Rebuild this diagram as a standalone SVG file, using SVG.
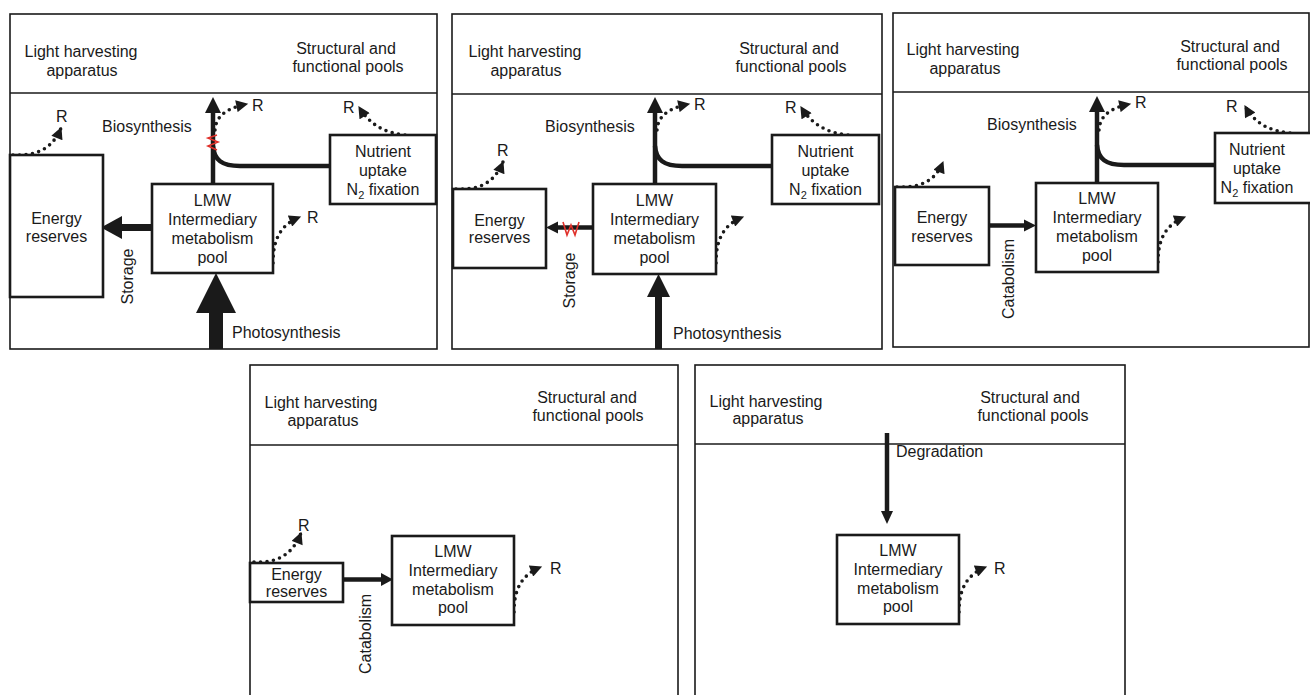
<svg xmlns="http://www.w3.org/2000/svg" width="1310" height="695" viewBox="0 0 1310 695">
<style>
text{font-family:"Liberation Sans",Arial,sans-serif;font-size:16px;fill:#1a1a1a}
.m{text-anchor:middle}
.sub{font-size:11px}
.panel{fill:none;stroke:#1a1a1a;stroke-width:1.6}
.div{stroke:#1a1a1a;stroke-width:1.6}
.box{fill:#fff;stroke:#1a1a1a;stroke-width:2.6}
.dot{fill:none;stroke:#1a1a1a;stroke-width:3.6;stroke-linecap:round;stroke-dasharray:0 6.5;marker-end:url(#rh)}
.ln{fill:none;stroke:#1a1a1a;stroke-width:4.5}
.hd{fill:#1a1a1a}
.zz{fill:none;stroke:#e0302a;stroke-width:1.6}
</style>
<defs>
<marker id="rh" viewBox="0 0 10 10" refX="9" refY="5" markerUnits="userSpaceOnUse" markerWidth="13" markerHeight="12" orient="auto">
<path d="M0,0 L10,5 L0,10 z" fill="#1a1a1a"/>
</marker>
</defs>

<!-- Panel frames -->
<g id="panel1">
<rect class="panel" x="10" y="14" width="427" height="335"/>
<line class="div" x1="10" y1="93" x2="437" y2="93"/>
<text class="m" x="81" y="57">Light harvesting</text>
<text class="m" x="82" y="76">apparatus</text>
<text class="m" x="346" y="54">Structural and</text>
<text class="m" x="348" y="72">functional pools</text>
<text x="102" y="132">Biosynthesis</text>
<text x="232" y="338">Photosynthesis</text>
<text class="m" transform="translate(132.5,276.5) rotate(-90)">Storage</text>
</g>
<g id="panel2">
<rect class="panel" x="452" y="14" width="430" height="335"/>
<line class="div" x1="452" y1="94" x2="882" y2="94"/>
<text class="m" x="525" y="57">Light harvesting</text>
<text class="m" x="526" y="76">apparatus</text>
<text class="m" x="789" y="54">Structural and</text>
<text class="m" x="791" y="72">functional pools</text>
<text x="545" y="132">Biosynthesis</text>
<text x="673" y="339">Photosynthesis</text>
<text class="m" transform="translate(575,280.5) rotate(-90)">Storage</text>
</g>
<g id="panel3">
<rect class="panel" x="893" y="13" width="416" height="334"/>
<line class="div" x1="893" y1="92" x2="1309" y2="92"/>
<text class="m" x="963" y="55">Light harvesting</text>
<text class="m" x="965" y="74">apparatus</text>
<text class="m" x="1230" y="52">Structural and</text>
<text class="m" x="1232" y="70">functional pools</text>
<text x="987" y="130">Biosynthesis</text>
<text class="m" transform="translate(1014,279) rotate(-90)">Catabolism</text>
</g>
<g id="panel4">
<rect class="panel" x="250" y="365" width="428" height="335"/>
<line class="div" x1="250" y1="445" x2="678" y2="445"/>
<text class="m" x="321" y="408">Light harvesting</text>
<text class="m" x="323" y="426">apparatus</text>
<text class="m" x="587" y="403">Structural and</text>
<text class="m" x="588" y="421">functional pools</text>
<text class="m" transform="translate(371,634) rotate(-90)">Catabolism</text>
</g>
<g id="panel5">
<rect class="panel" x="695" y="365" width="430" height="335"/>
<line class="div" x1="695" y1="444" x2="1125" y2="444"/>
<text class="m" x="766" y="407">Light harvesting</text>
<text class="m" x="768" y="424">apparatus</text>
<text class="m" x="1030" y="403">Structural and</text>
<text class="m" x="1033" y="421">functional pools</text>
<text x="896" y="457">Degradation</text>
</g>

<!-- Connectors -->
<g id="connectors">
<!-- panel 1 -->
<line class="ln" x1="213" y1="184" x2="213" y2="110"/>
<polygon class="hd" points="213,97 205,113 221,113"/>
<path class="ln" d="M330 166 L240 166 C222 166 214 160 213 146"/>
<polyline class="zz" points="217,135 208,138 218,142 208,146 217,150"/>
<rect class="hd" x="120" y="224" width="32" height="7"/>
<polygon class="hd" points="101,227.5 122,216 122,239"/>
<rect class="hd" x="209" y="311" width="14" height="38"/>
<polygon class="hd" points="216,273 196,313 236,313"/>
<path class="dot" d="M13 155 C35 156 52 150 61 128"/>
<path class="dot" d="M215 130 C216 115 228 108 247 104"/>
<path class="dot" d="M405 135 C385 133 370 125 359 107"/>
<path class="dot" d="M273 263 C273 240 280 225 300 217"/>
<!-- panel 2 -->
<line class="ln" x1="655" y1="184" x2="655" y2="110"/>
<polygon class="hd" points="655,97 647,113 663,113"/>
<path class="ln" d="M772 166 L682 166 C664 166 656 160 655 146"/>
<line class="ln" x1="593" y1="227.5" x2="556" y2="227.5"/>
<polygon class="hd" points="546,227.5 558,221.5 558,233.5"/>
<polyline class="zz" points="563,222 567,235 571,225 575,235 579,222"/>
<rect class="hd" x="655" y="295" width="7" height="54"/>
<polygon class="hd" points="658.5,274 647,297 670,297"/>
<path class="dot" d="M456 189 C478 190 494 184 503 162"/>
<path class="dot" d="M657 130 C658 115 670 108 689 104"/>
<path class="dot" d="M848 135 C828 133 812 125 801 107"/>
<path class="dot" d="M716 263 C716 240 723 225 743 217"/>
<!-- panel 3 -->
<line class="ln" x1="1097" y1="183" x2="1097" y2="110"/>
<polygon class="hd" points="1097,96 1089,112 1105,112"/>
<path class="ln" d="M1215 165 L1124 165 C1106 165 1098 159 1097 145"/>
<line class="ln" x1="990" y1="225.5" x2="1025" y2="225.5"/>
<polygon class="hd" points="1036,225.5 1024,219.5 1024,231.5"/>
<path class="dot" d="M897 187 C919 188 935 182 943 162"/>
<path class="dot" d="M1099 130 C1100 115 1111 108 1130 104"/>
<path class="dot" d="M1290 133 C1270 131 1255 124 1245 106"/>
<path class="dot" d="M1158 262 C1158 240 1165 225 1185 217"/>
<!-- panel 4 -->
<line class="ln" x1="343" y1="579.5" x2="382" y2="579.5"/>
<polygon class="hd" points="393,579.5 381,573 381,586"/>
<path class="dot" d="M254 562 C276 563 292 556 301 533"/>
<path class="dot" d="M514 612 C514 590 521 575 541 567"/>
<!-- panel 5 -->
<line class="ln" x1="887" y1="433" x2="887" y2="513"/>
<polygon class="hd" points="887,524 881,511 893,511"/>
<path class="dot" d="M959 612 C959 590 966 575 986 567"/>
</g>

<!-- Nodes -->
<g id="p1-energy"><rect class="box" x="10" y="155" width="93" height="142"/>
<text class="m" x="56.5" y="224">Energy</text><text class="m" x="56.5" y="242">reserves</text></g>
<g id="p1-lmw"><rect class="box" x="152" y="184" width="121" height="89"/>
<text class="m" x="212.5" y="206">LMW</text><text class="m" x="212.5" y="225">Intermediary</text><text class="m" x="212.5" y="244">metabolism</text><text class="m" x="212.5" y="263">pool</text></g>
<g id="p1-nutrient"><rect class="box" x="330" y="135" width="106" height="69"/>
<text class="m" x="383" y="157">Nutrient</text><text class="m" x="383" y="176">uptake</text><text class="m" x="383" y="195">N<tspan class="sub" dy="4">2</tspan><tspan dy="-4"> fixation</tspan></text></g>
<g id="p1-labels"><text x="56" y="122">R</text><text x="252" y="111">R</text><text x="343" y="113">R</text><text x="307" y="223">R</text></g>

<g id="p2-energy"><rect class="box" x="453" y="189" width="93" height="79"/>
<text class="m" x="499.5" y="226">Energy</text><text class="m" x="499.5" y="243">reserves</text></g>
<g id="p2-lmw"><rect class="box" x="593" y="184" width="123" height="90"/>
<text class="m" x="654.5" y="206">LMW</text><text class="m" x="654.5" y="225">Intermediary</text><text class="m" x="654.5" y="244">metabolism</text><text class="m" x="654.5" y="263">pool</text></g>
<g id="p2-nutrient"><rect class="box" x="772" y="135" width="107" height="69"/>
<text class="m" x="825.5" y="157">Nutrient</text><text class="m" x="825.5" y="176">uptake</text><text class="m" x="825.5" y="195">N<tspan class="sub" dy="4">2</tspan><tspan dy="-4"> fixation</tspan></text></g>
<g id="p2-labels"><text x="497" y="156">R</text><text x="694" y="110">R</text><text x="785" y="113">R</text></g>

<g id="p3-energy"><rect class="box" x="895" y="187" width="94" height="78"/>
<text class="m" x="942" y="223">Energy</text><text class="m" x="942" y="242">reserves</text></g>
<g id="p3-lmw"><rect class="box" x="1036" y="183" width="122" height="89"/>
<text class="m" x="1097" y="204">LMW</text><text class="m" x="1097" y="223">Intermediary</text><text class="m" x="1097" y="242">metabolism</text><text class="m" x="1097" y="261">pool</text></g>
<g id="p3-nutrient"><rect class="box" x="1215" y="133" width="100" height="70"/>
<text class="m" x="1257" y="155">Nutrient</text><text class="m" x="1257" y="174">uptake</text><text class="m" x="1257" y="193">N<tspan class="sub" dy="4">2</tspan><tspan dy="-4"> fixation</tspan></text></g>
<g id="p3-labels"><text x="1135" y="108">R</text><text x="1226" y="112">R</text></g>

<g id="p4-energy"><rect class="box" x="250" y="563" width="93" height="39"/>
<text class="m" x="296.5" y="580">Energy</text><text class="m" x="296.5" y="597">reserves</text></g>
<g id="p4-lmw"><rect class="box" x="392" y="536" width="122" height="89"/>
<text class="m" x="453" y="557">LMW</text><text class="m" x="453" y="576">Intermediary</text><text class="m" x="453" y="595">metabolism</text><text class="m" x="453" y="613">pool</text></g>
<g id="p4-labels"><text x="298" y="531">R</text><text x="550" y="574">R</text></g>

<g id="p5-lmw"><rect class="box" x="837" y="535" width="122" height="89"/>
<text class="m" x="898" y="556">LMW</text><text class="m" x="898" y="575">Intermediary</text><text class="m" x="898" y="594">metabolism</text><text class="m" x="898" y="612">pool</text></g>
<g id="p5-labels"><text x="994" y="574">R</text></g>
</svg>
